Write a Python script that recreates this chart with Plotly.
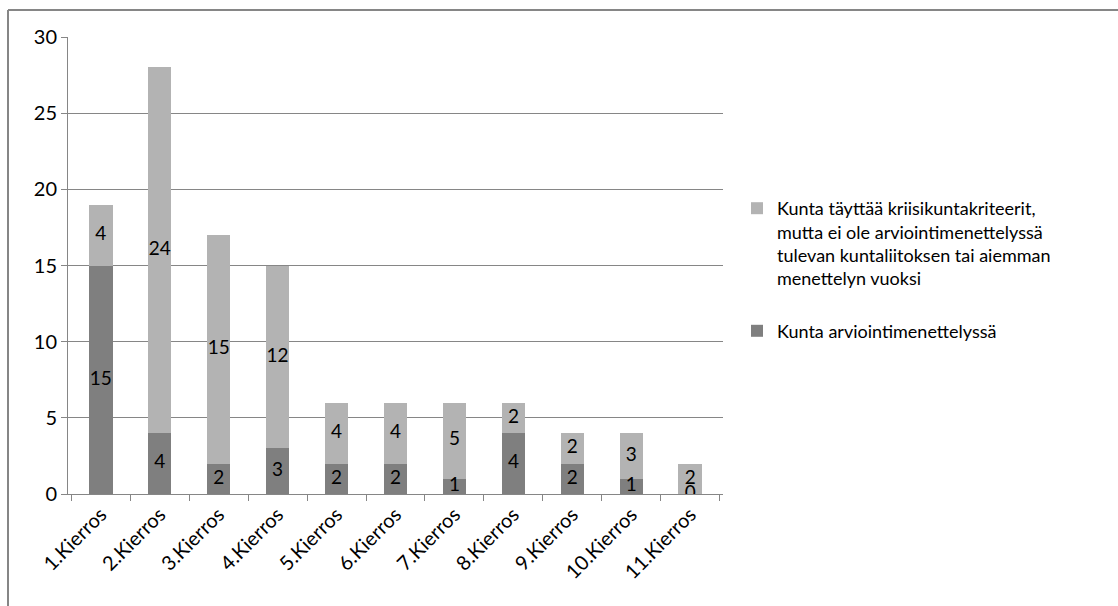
import plotly.graph_objects as go

categories = ["1.Kierros", "2.Kierros", "3.Kierros", "4.Kierros", "5.Kierros", "6.Kierros",
              "7.Kierros", "8.Kierros", "9.Kierros", "10.Kierros", "11.Kierros"]
arviointi = [15, 4, 2, 3, 2, 2, 1, 4, 2, 1, 0]
kriteerit = [4, 24, 15, 12, 4, 4, 5, 2, 2, 3, 2]

name_light = ("Kunta täyttää kriisikuntakriteerit,<br>mutta ei ole arviointimenettelyssä"
              "<br>tulevan kuntaliitoksen tai aiemman<br>menettelyn vuoksi")
name_dark = "Kunta arviointimenettelyssä"

FONT = "Lato, Open Sans, sans-serif"
dark_col = "#7f7f7f"
light_col = "#b3b3b3"

fig = go.Figure()
fig.add_trace(go.Bar(x=categories, y=arviointi, name=name_dark, legendgroup="dark", legendrank=2,
                     marker=dict(color=dark_col, line=dict(width=0))))
fig.add_trace(go.Bar(x=categories, y=kriteerit, name=name_light, legendgroup="light", legendrank=1,
                     marker=dict(color=light_col, line=dict(width=0))))

# value labels at segment centres
dark_mid = [v / 2 for v in arviointi]
light_mid = [d + v / 2 for d, v in zip(arviointi, kriteerit)]
fig.add_trace(go.Scatter(x=categories, y=dark_mid, mode="text", text=[str(v) for v in arviointi],
                         textfont=dict(family=FONT, size=19, color="#000000"), showlegend=False,
                         hoverinfo="skip"))
fig.add_trace(go.Scatter(x=categories, y=light_mid, mode="text", text=[str(v) for v in kriteerit],
                         textfont=dict(family=FONT, size=19, color="#000000"), showlegend=False,
                         hoverinfo="skip"))

L, R, T, B = 68, 395, 37, 112
W, H = 1118, 606
pw, ph = W - L - R, H - T - B

fig.update_layout(
    width=W, height=H,
    margin=dict(l=L, r=R, t=T, b=B),
    barmode="stack",
    bargap=0.6,
    plot_bgcolor="white", paper_bgcolor="white",
    font=dict(family=FONT, size=19, color="#000000"),
    legend=dict(x=(737 - L) / pw, y=1 - (190 - T) / ph, xanchor="left", yanchor="top",
                traceorder="grouped", valign="top", font=dict(size=18), tracegroupgap=26,
                itemwidth=30),
    xaxis=dict(type="category", tickangle=-45, showgrid=False, showline=True,
               linecolor="#868686", linewidth=1, ticks="outside", tickson="boundaries",
               tickcolor="#868686", ticklen=6, tickfont=dict(size=20)),
    yaxis=dict(range=[0, 30], dtick=5, showgrid=True, gridcolor="#868686", gridwidth=1,
               showline=True, linecolor="#868686", linewidth=1, ticks="outside",
               tickcolor="#868686", ticklen=6, tickfont=dict(size=20), zeroline=False),
    shapes=[
        dict(type="line", xref="paper", yref="paper", x0=(8 - L) / pw, x1=(W + 5 - L) / pw,
             y0=1 + (T - 10) / ph, y1=1 + (T - 10) / ph, line=dict(color="#868686", width=2)),
        dict(type="line", xref="paper", yref="paper", x0=(8 - L) / pw, x1=(8 - L) / pw,
             y0=1 + (T - 10) / ph, y1=-(H + 5 - T - ph) / ph, line=dict(color="#868686", width=2)),
    ],
)

fig.write_html("out.html")
